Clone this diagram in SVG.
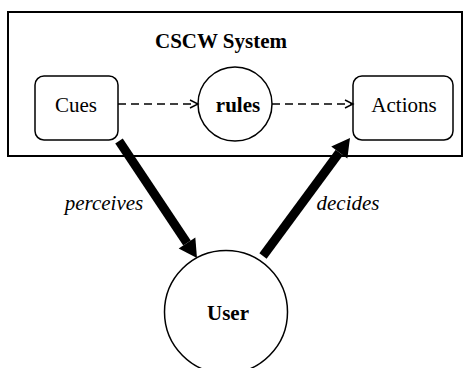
<svg xmlns="http://www.w3.org/2000/svg" width="464" height="368" viewBox="0 0 464 368">
  <style>
    .frame { fill: #fff; stroke: #000; stroke-width: 2; }
    .box { fill: #fff; stroke: #000; stroke-width: 1.5; }
    .txt { font-family: "Liberation Serif", "Times New Roman", serif; font-size: 21px; fill: #000; }
    .bold { font-weight: bold; }
    .ital { font-style: italic; }
    .mid { text-anchor: middle; }
    .dash { fill: none; stroke: #000; stroke-width: 1.4; stroke-dasharray: 8 5; }
    .thick { fill: none; stroke: #000; stroke-width: 9; }
  </style>
  <defs>
    <marker id="open" markerUnits="userSpaceOnUse" markerWidth="10" markerHeight="10" refX="8" refY="4" orient="auto" overflow="visible">
      <path d="M0,0 L8,4 L0,8" fill="none" stroke="#000" stroke-width="1.4"/>
    </marker>
    <marker id="solid" markerUnits="userSpaceOnUse" markerWidth="20" markerHeight="22" refX="0" refY="10" orient="auto" overflow="visible">
      <path d="M0,0 L18,10 L0,20 Z" fill="#000"/>
    </marker>
  </defs>

  <g id="system">
    <rect class="frame" x="8" y="12" width="454" height="144"/>
    <text class="txt bold mid" x="221" y="48">CSCW System</text>
  </g>

  <g id="cues">
    <rect class="box" x="35" y="76" width="83" height="64" rx="9"/>
    <text class="txt mid" x="76" y="112">Cues</text>
  </g>

  <g id="rules">
    <circle class="box" cx="235" cy="104" r="37"/>
    <text class="txt bold mid" x="238" y="112">rules</text>
  </g>

  <g id="actions">
    <rect class="box" x="353" y="76" width="100" height="64" rx="9"/>
    <text class="txt mid" x="404" y="112">Actions</text>
  </g>

  <g id="user">
    <circle class="box" cx="226" cy="312" r="61.5"/>
    <text class="txt bold mid" x="228" y="320">User</text>
  </g>

  <g id="connectors">
    <line class="dash" x1="118" y1="104" x2="198" y2="104" marker-end="url(#open)"/>
    <line class="dash" x1="272" y1="104" x2="353" y2="104" marker-end="url(#open)"/>
    <line class="thick" x1="119" y1="141" x2="187" y2="243" marker-end="url(#solid)"/>
    <line class="thick" x1="263" y1="256" x2="339.3" y2="152.5" marker-end="url(#solid)"/>
    <text class="txt ital mid" x="104" y="210">perceives</text>
    <text class="txt ital mid" x="348" y="210">decides</text>
  </g>
</svg>
